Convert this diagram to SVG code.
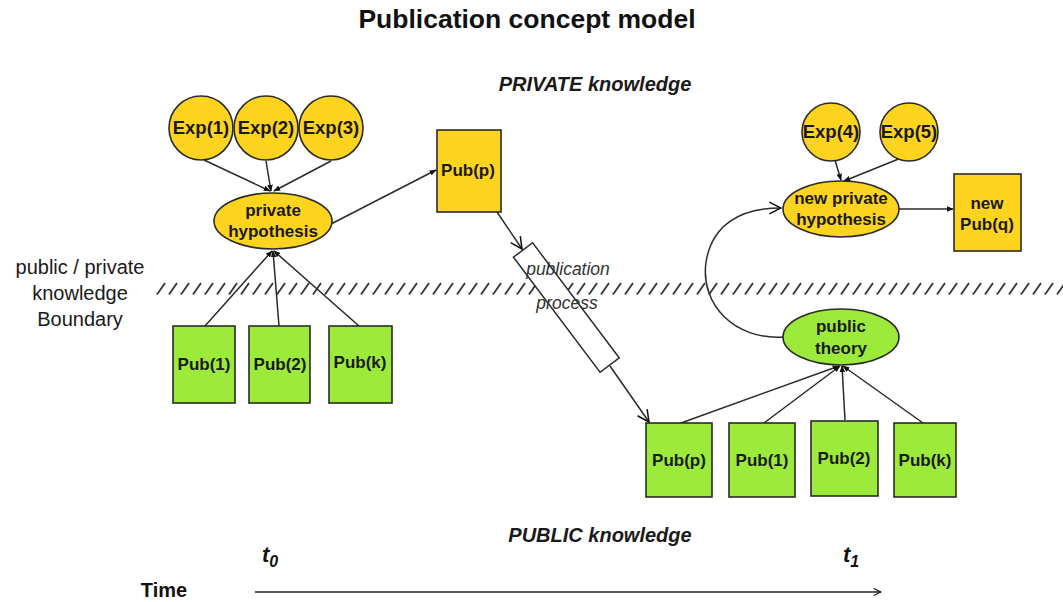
<svg xmlns="http://www.w3.org/2000/svg" width="1063" height="602" viewBox="0 0 1063 602">
  <style>
    .priv { fill: #FFD41F; stroke: #2a2a2a; stroke-width: 1.6; }
    .pub { fill: #9CEB3A; stroke: #2a2a2a; stroke-width: 1.6; }
    .lbl { font-family: "Liberation Sans", Arial, sans-serif; font-weight: bold; font-size: 17px; fill: #1a1a1a; text-anchor: middle; }
    .exp { font-size: 18.5px; }
    .edge { fill: none; stroke: #2a2a2a; stroke-width: 1.5; }
    .plain { font-family: "Liberation Sans", Arial, sans-serif; font-size: 20px; fill: #1a1a1a; text-anchor: middle; }
    .head { font-family: "Liberation Sans", Arial, sans-serif; font-weight: bold; font-style: italic; font-size: 20px; fill: #1a1a1a; text-anchor: middle; }
    .proc { font-family: "Liberation Sans", Arial, sans-serif; font-style: italic; font-size: 17.5px; fill: #333; text-anchor: middle; }
  </style>
  <defs>
    <marker id="solid" viewBox="0 0 10 10" refX="9" refY="5" markerWidth="7" markerHeight="7" orient="auto" markerUnits="userSpaceOnUse">
      <path d="M0,1 L10,5 L0,9 z" fill="#111"/>
    </marker>
    <marker id="open" viewBox="0 0 12 12" refX="11" refY="6" markerWidth="14" markerHeight="14" orient="auto" markerUnits="userSpaceOnUse">
      <path d="M1,1 L11,6 L1,11" fill="none" stroke="#111" stroke-width="1.3"/>
    </marker>
    <marker id="tip" viewBox="0 0 10 10" refX="9" refY="5" markerWidth="9" markerHeight="9" orient="auto" markerUnits="userSpaceOnUse">
      <path d="M1,1 L9,5 L1,9" fill="none" stroke="#111" stroke-width="1.2"/>
    </marker>
    <pattern id="hatch" x="0" y="282" width="12" height="14" patternUnits="userSpaceOnUse">
      <line x1="1" y1="12.5" x2="9" y2="1" stroke="#333" stroke-width="1.8"/>
    </pattern>
  </defs>

  <rect width="1063" height="602" fill="#ffffff"/>

  <!-- headings -->
  <text x="527" y="28" font-family="Liberation Sans, Arial, sans-serif" font-weight="bold" font-size="26.5px" text-anchor="middle" fill="#111">Publication concept model</text>
  <text class="head" x="595" y="91">PRIVATE knowledge</text>
  <text class="head" x="600" y="542">PUBLIC knowledge</text>

  <!-- public / private boundary -->
  <g id="boundary">
    <rect x="155" y="282" width="908" height="14" fill="url(#hatch)"/>
    <text class="plain" x="80" y="274">public / private</text>
    <text class="plain" x="80" y="300">knowledge</text>
    <text class="plain" x="80" y="326">Boundary</text>
  </g>

  <!-- connectors -->
  <g id="connectors">
    <line class="edge" x1="204" y1="160" x2="270" y2="191" marker-end="url(#solid)"/>
    <line class="edge" x1="266" y1="161" x2="271" y2="191" marker-end="url(#solid)"/>
    <line class="edge" x1="331" y1="161" x2="274" y2="191" marker-end="url(#solid)"/>
    <line class="edge" x1="205" y1="326" x2="272" y2="251" marker-end="url(#solid)"/>
    <line class="edge" x1="279" y1="326" x2="273" y2="251" marker-end="url(#solid)"/>
    <line class="edge" x1="359" y1="326" x2="274" y2="251" marker-end="url(#solid)"/>
    <line class="edge" x1="331" y1="224" x2="436" y2="170" marker-end="url(#solid)"/>
    <line class="edge" x1="497" y1="212" x2="522" y2="249" marker-end="url(#open)"/>
    <line class="edge" x1="610" y1="366" x2="649" y2="422" marker-end="url(#open)"/>
    <line class="edge" x1="681" y1="423" x2="839" y2="366" marker-end="url(#solid)"/>
    <line class="edge" x1="764" y1="423" x2="840" y2="366" marker-end="url(#solid)"/>
    <line class="edge" x1="845" y1="420" x2="842" y2="366" marker-end="url(#solid)"/>
    <line class="edge" x1="923" y1="423" x2="843" y2="366" marker-end="url(#solid)"/>
    <path class="edge" d="M783,337 C735,340 700,305 706,262 C712,225 740,208 781,208" marker-end="url(#open)"/>
    <line class="edge" x1="834" y1="157" x2="841" y2="180" marker-end="url(#solid)"/>
    <line class="edge" x1="906" y1="156" x2="844" y2="181" marker-end="url(#solid)"/>
    <line class="edge" x1="899" y1="209" x2="953" y2="209" marker-end="url(#solid)"/>
  </g>

  <!-- private side -->
  <g id="exp1"><circle class="priv" cx="201" cy="128" r="32"/><text class="lbl exp" x="201" y="134">Exp(1)</text></g>
  <g id="exp2"><circle class="priv" cx="266" cy="128" r="32"/><text class="lbl exp" x="266" y="134">Exp(2)</text></g>
  <g id="exp3"><circle class="priv" cx="331" cy="128" r="32"/><text class="lbl exp" x="331" y="134">Exp(3)</text></g>
  <g id="private-hypothesis">
    <ellipse class="priv" cx="273" cy="221" rx="59" ry="28"/>
    <text class="lbl" x="273" y="216">private</text>
    <text class="lbl" x="273" y="237">hypothesis</text>
  </g>
  <g id="pub-p-private"><rect class="priv" x="437" y="130" width="64" height="82"/><text class="lbl" x="468" y="176">Pub(p)</text></g>

  <g id="pub1-left"><rect class="pub" x="173" y="326" width="62" height="77"/><text class="lbl" x="204" y="370">Pub(1)</text></g>
  <g id="pub2-left"><rect class="pub" x="249" y="326" width="61" height="77"/><text class="lbl" x="280" y="370">Pub(2)</text></g>
  <g id="pubk-left"><rect class="pub" x="329" y="326" width="63" height="77"/><text class="lbl" x="360" y="368">Pub(k)</text></g>

  <!-- publication process -->
  <g id="publication-process">
    <rect x="0" y="-12" width="144" height="24" fill="#ffffff" stroke="#2a2a2a" stroke-width="1.5" transform="translate(523,250) rotate(53)"/>
    <text class="proc" x="568" y="275">publication</text>
    <text class="proc" x="567" y="309">process</text>
  </g>

  <!-- public side -->
  <g id="public-theory">
    <ellipse class="pub" cx="841" cy="337" rx="58" ry="28"/>
    <text class="lbl" x="841" y="332">public</text>
    <text class="lbl" x="841" y="354">theory</text>
  </g>
  <g id="pub-p-public"><rect class="pub" x="646" y="423" width="66" height="74"/><text class="lbl" x="679" y="466">Pub(p)</text></g>
  <g id="pub1-right"><rect class="pub" x="729" y="423" width="66" height="74"/><text class="lbl" x="762" y="466">Pub(1)</text></g>
  <g id="pub2-right"><rect class="pub" x="811" y="421" width="67" height="75"/><text class="lbl" x="844" y="464">Pub(2)</text></g>
  <g id="pubk-right"><rect class="pub" x="894" y="423" width="62" height="74"/><text class="lbl" x="925" y="466">Pub(k)</text></g>

  <g id="exp4"><circle class="priv" cx="831" cy="132" r="29"/><text class="lbl exp" x="831" y="138">Exp(4)</text></g>
  <g id="exp5"><circle class="priv" cx="909" cy="132" r="29"/><text class="lbl exp" x="909" y="138">Exp(5)</text></g>
  <g id="new-private-hypothesis">
    <ellipse class="priv" cx="841" cy="209" rx="58" ry="28"/>
    <text class="lbl" x="841" y="204">new private</text>
    <text class="lbl" x="841" y="225">hypothesis</text>
  </g>
  <g id="new-pub-q">
    <rect class="priv" x="954" y="174" width="67" height="77"/>
    <text class="lbl" x="987" y="209">new</text>
    <text class="lbl" x="987" y="230">Pub(q)</text>
  </g>

  <!-- time axis -->
  <g id="time-axis">
    <text x="164" y="597" font-family="Liberation Sans, Arial, sans-serif" font-weight="bold" font-size="20px" text-anchor="middle" fill="#111">Time</text>
    <line x1="255" y1="592" x2="881" y2="592" stroke="#222" stroke-width="1.5" marker-end="url(#tip)"/>
    <text x="262" y="562" font-family="Liberation Sans, Arial, sans-serif" font-weight="bold" font-style="italic" font-size="22px" fill="#111">t<tspan font-size="16px" dy="5">0</tspan></text>
    <text x="843" y="562" font-family="Liberation Sans, Arial, sans-serif" font-weight="bold" font-style="italic" font-size="22px" fill="#111">t<tspan font-size="16px" dy="5">1</tspan></text>
  </g>
</svg>
